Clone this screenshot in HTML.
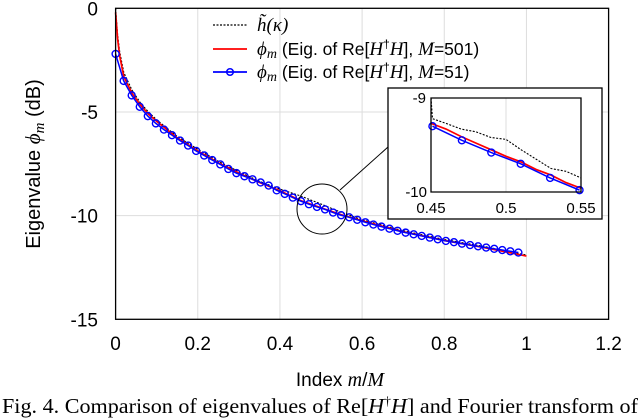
<!DOCTYPE html>
<html><head><meta charset="utf-8"><style>
body{margin:0;background:#fff;}
svg{display:block;font-family:"Liberation Sans",sans-serif;}
.ser{font-family:"Liberation Serif",serif;}
</style></head><body>
<svg id="chart" width="640" height="418" viewBox="0 0 640 418">
<g id="grid"></g>
<g id="series"></g>
<rect x="115.6" y="8.3" width="493" height="311" fill="none" stroke="#000" stroke-width="1.3"/>
<g id="ticks" font-size="19"></g>
<text x="340" y="386" font-size="19" text-anchor="middle">Index <tspan class="ser" font-style="italic" font-size="20">m</tspan>/<tspan class="ser" font-style="italic" font-size="20">M</tspan></text>
<text transform="translate(40,164) rotate(-90)" font-size="20" text-anchor="middle">Eigenvalue <tspan class="ser" font-style="italic" font-size="21">ϕ</tspan><tspan class="ser" font-style="italic" font-size="15" dy="4">m</tspan><tspan dy="-4"> (dB)</tspan></text>
<g font-size="17.5">
<g><line x1="213" y1="25" x2="247" y2="25" stroke="#000" stroke-width="1.2" stroke-dasharray="2,1.5"/><text x="257" y="31" class="ser" font-style="italic" font-size="19">h̃(κ)</text></g>
<g><line x1="213" y1="49" x2="247" y2="49" stroke="#f00" stroke-width="1.7"/><text x="257" y="55"><tspan class="ser" font-style="italic" font-size="19">ϕ</tspan><tspan class="ser" font-style="italic" font-size="14" dy="3">m</tspan><tspan dy="-3">  (Eig. of Re[</tspan><tspan class="ser" font-style="italic" font-size="19">H</tspan><tspan font-size="12" dy="-7">†</tspan><tspan class="ser" font-style="italic" font-size="19" dy="7">H</tspan><tspan>], </tspan><tspan class="ser" font-style="italic" font-size="19">M</tspan><tspan>=501)</tspan></text></g>
<g><line x1="213" y1="72" x2="247" y2="72" stroke="#00f" stroke-width="1.7"/><circle cx="230" cy="72" r="3.3" fill="none" stroke="#00f" stroke-width="1.5"/><text x="257" y="78"><tspan class="ser" font-style="italic" font-size="19">ϕ</tspan><tspan class="ser" font-style="italic" font-size="14" dy="3">m</tspan><tspan dy="-3">  (Eig. of Re[</tspan><tspan class="ser" font-style="italic" font-size="19">H</tspan><tspan font-size="12" dy="-7">†</tspan><tspan class="ser" font-style="italic" font-size="19" dy="7">H</tspan><tspan>], </tspan><tspan class="ser" font-style="italic" font-size="19">M</tspan><tspan>=51)</tspan></text></g>
</g>
<circle cx="322" cy="209" r="25" fill="none" stroke="#000" stroke-width="1"/>
<line x1="340" y1="190" x2="388" y2="147" stroke="#000" stroke-width="1"/>
<g id="inset">
<rect x="388" y="88" width="214" height="131" fill="#fff" stroke="#000" stroke-width="1.3"/>
</g>
<text x="320" y="413" class="ser" font-size="21" text-anchor="middle" textLength="636" lengthAdjust="spacingAndGlyphs">Fig. 4. Comparison of eigenvalues of Re[<tspan font-style="italic">H</tspan><tspan font-size="13" dy="-8">†</tspan><tspan font-style="italic" dy="8">H</tspan>] and Fourier transform of</text>
</svg>
<script>
const xTicks=[0,0.2,0.4,0.6,0.8,1,1.2];
const xTickLabels=["0","0.2","0.4","0.6","0.8","1","1.2"];
const yTicks=[0,-5,-10,-15];
const yTickLabels=["0","-5","-10","-15"];
const blueVals=[-2.2,-3.5,-4.2,-4.75,-5.2,-5.55,-5.85,-6.12,-6.38,-6.62,-6.88,-7.1,-7.32,-7.53,-7.75,-7.95,-8.1,-8.25,-8.4,-8.55,-8.78,-8.95,-9.13,-9.3,-9.45,-9.58,-9.7,-9.85,-9.98,-10.08,-10.2,-10.32,-10.43,-10.53,-10.63,-10.73,-10.82,-10.9,-10.98,-11.06,-11.14,-11.22,-11.28,-11.35,-11.42,-11.48,-11.54,-11.6,-11.66,-11.72,-11.78];
const blueM=51;
const redX=[0,0.005,0.01,0.02,0.04,0.06,0.08,0.1,0.15,0.2,0.25,0.3,0.35,0.4,0.45,0.5,0.55,0.6,0.7,0.8,0.9,0.95,1.0];
const redY=[-0.2,-1.5,-2.3,-3.3,-4.1,-4.65,-5.1,-5.45,-6.25,-6.88,-7.45,-7.95,-8.4,-8.8,-9.27,-9.62,-9.96,-10.25,-10.78,-11.2,-11.55,-11.75,-11.95];
const blackX=[0,0.005,0.01,0.02,0.04,0.06,0.08,0.1,0.15,0.2,0.25,0.3,0.35,0.4,0.45,0.5,0.55,0.6,0.7,0.8,0.9,0.95,1.0];
const blackY=[0,-1.3,-2.1,-3.1,-3.95,-4.55,-5.0,-5.38,-6.18,-6.8,-7.38,-7.88,-8.34,-8.72,-9.05,-9.44,-9.85,-10.2,-10.73,-11.15,-11.5,-11.7,-11.9];
const insetXTicks=[0.45,0.5,0.55];
const insetXLabels=["0.45","0.5","0.55"];
const insetYTicks=[-9,-10];
const insetYLabels=["-9","-10"];
const insetRedX=[0.45,0.46,0.47,0.48,0.49,0.5,0.51,0.52,0.53,0.54,0.55];
const insetRedY=[-9.27,-9.33,-9.41,-9.48,-9.55,-9.62,-9.68,-9.76,-9.82,-9.9,-9.96];
const insetBlackX=[0.45,0.451,0.46,0.47,0.48,0.49,0.5,0.51,0.52,0.53,0.54,0.55];
const insetBlackY=[-9.0,-9.22,-9.27,-9.33,-9.36,-9.42,-9.44,-9.55,-9.65,-9.75,-9.78,-9.85];

const NS="http://www.w3.org/2000/svg";
const X=v=>115.6+v/1.2*493;
const Y=v=>8.3-v/15*311;
const IX=v=>431+(v-0.45)/0.1*150;
const IY=v=>98-(v+9)*94;
function mk(tag,attrs,parent){const e=document.createElementNS(NS,tag);for(const k in attrs)e.setAttribute(k,attrs[k]);parent.appendChild(e);return e;}
const grid=document.getElementById('grid'),ser=document.getElementById('series'),ticks=document.getElementById('ticks'),inset=document.getElementById('inset');
xTicks.forEach((t,i)=>{
 if(t>0&&t<1.2){const l=mk('line',{x1:X(t),x2:X(t),y1:8.3,y2:319.3,stroke:'#ddd','stroke-width':1},grid);
 
 }
 const tx=mk('text',{x:X(t),y:350,'text-anchor':'middle'},ticks);tx.textContent=xTickLabels[i];
 
 
});
yTicks.forEach((t,i)=>{
 if(t<0&&t>-15){const l=mk('line',{x1:115.6,x2:608.6,y1:Y(t),y2:Y(t),stroke:'#ddd','stroke-width':1},grid);
 
 }
 const tx=mk('text',{x:98,y:Y(t)+7,'text-anchor':'end'},ticks);tx.textContent=yTickLabels[i];
 
 
});
function path(xs,ys,fx,fy){return xs.map((x,i)=>(i?'L':'M')+fx(x).toFixed(2)+','+fy(ys[i]).toFixed(2)).join('');}
const bk=mk('path',{d:path(blackX,blackY,X,Y),fill:'none',stroke:'#000','stroke-width':1.1,'stroke-dasharray':'2,1.5'},ser);


const rd=mk('path',{d:path(redX,redY,X,Y),fill:'none',stroke:'#f00','stroke-width':1.7},ser);


const bx=blueVals.map((v,i)=>i/blueM);
const bl=mk('path',{d:path(bx,blueVals,X,Y),fill:'none',stroke:'#00f','stroke-width':1.5},ser);


blueVals.forEach((v,i)=>{const c=mk('circle',{cx:X(bx[i]),cy:Y(v),r:3.5,fill:'none',stroke:'#00f','stroke-width':1.4},ser);
 
 });
const ig=mk('line',{x1:IX(0.5),x2:IX(0.5),y1:98,y2:192,stroke:'#ddd','stroke-width':1},inset);


const clip=mk('clipPath',{id:'ic'},inset);mk('rect',{x:431,y:96,width:151,height:97},clip);
const ib=mk('path',{d:path(insetBlackX,insetBlackY,IX,IY),fill:'none',stroke:'#000','stroke-width':1.1,'stroke-dasharray':'2,1.5','clip-path':'url(#ic)'},inset);


const ir=mk('path',{d:path(insetRedX,insetRedY,IX,IY),fill:'none',stroke:'#f00','stroke-width':1.7},inset);


const selX=[],selY=[];bx.forEach((x,i)=>{if(x>=0.449&&x<=0.551){selX.push(x);selY.push(blueVals[i]);}});
const ibl=mk('path',{d:path(selX,selY,IX,IY),fill:'none',stroke:'#00f','stroke-width':1.5},inset);


selX.forEach((x,i)=>{const c=mk('circle',{cx:IX(x),cy:IY(selY[i]),r:3.5,fill:'none',stroke:'#00f','stroke-width':1.4},inset);
 
 });
const ifr=mk('path',{d:'M431,98 V192 H581 V98 Z',fill:'none',stroke:'#000','stroke-width':1.3},inset);


insetXTicks.forEach((t,i)=>{const tx=mk('text',{x:IX(t),y:213,'text-anchor':'middle','font-size':15},inset);tx.textContent=insetXLabels[i];
 
 });
insetYTicks.forEach((t,i)=>{const tx=mk('text',{x:t===-9?426:427,y:IY(t)+5,'text-anchor':'end','font-size':15},inset);tx.textContent=insetYLabels[i];
 
 });
</script>
</body></html>
